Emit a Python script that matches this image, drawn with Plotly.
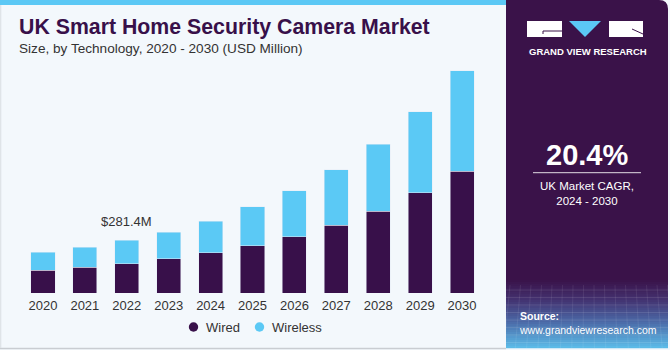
import plotly.graph_objects as go

years = ["2020", "2021", "2022", "2023", "2024", "2025", "2026", "2027", "2028", "2029", "2030"]
wired = [120.0, 138.1, 155.6, 182.1, 214.0, 251.2, 299.0, 361.1, 435.4, 534.2, 647.8]
wireless = [95.6, 106.2, 125.8, 141.8, 168.3, 207.1, 245.8, 295.2, 355.8, 428.5, 534.2]
series_names = ["Wired", "Wireless"]
highlight_year = "2022"
highlight_label = "$281.4M"
cagr_text = "20.4%"

WIRED_C = "#38104a"
WIRELESS_C = "#5bc9f5"
BG = "#f3f8fc"
PANEL = "#3a1249"

# plot area in pixels
L, R, T, B = 22, 483, 60, 293
W, H = R - L, B - T


def px(x):
    return (x - L) / W


def py(y):
    return (B - y) / H


pos = list(range(len(years)))
totals = [a + b for a, b in zip(wired, wireless)]
ymax = max(totals) * 233 / 222.3

fig = go.Figure()
fig.add_trace(go.Bar(x=pos, y=wired, name=series_names[0], marker_color=WIRED_C, showlegend=False, width=0.575))
fig.add_trace(go.Bar(x=pos, y=wireless, name=series_names[1], marker_color=WIRELESS_C, showlegend=False, width=0.575))

shapes = []
# top stripe
shapes.append(dict(type="rect", xref="paper", yref="paper", x0=px(0), x1=px(506), y0=py(0), y1=py(5),
                   fillcolor="#5bc8f5", line_width=0, layer="below"))
# bottom/left border
shapes.append(dict(type="line", xref="paper", yref="paper", x0=px(0), x1=px(506), y0=py(348.5), y1=py(348.5),
                   line=dict(color="#c9cdd2", width=1.5)))
shapes.append(dict(type="line", xref="paper", yref="paper", x0=px(0.7), x1=px(0.7), y0=py(5), y1=py(348),
                   line=dict(color="#dde2e6", width=1.2)))
# right panel with rounded top-right corner
r = 9
x0p, x1p, y0p, y1p = 506, 668, 0, 348
path = (f"M {px(x0p)},{py(y1p)} L {px(x0p)},{py(y0p)} L {px(x1p - r)},{py(y0p)} "
        f"Q {px(x1p)},{py(y0p)} {px(x1p)},{py(y0p + r)} L {px(x1p)},{py(y1p)} Z")
shapes.append(dict(type="path", xref="paper", yref="paper", path=path, fillcolor=PANEL, line_width=0))


# gradient bottom of panel
def lerp(c1, c2, f):
    a = [int(c1[k:k + 2], 16) for k in (1, 3, 5)]
    b = [int(c2[k:k + 2], 16) for k in (1, 3, 5)]
    return "#" + "".join(f"{round(a[k] + (b[k] - a[k]) * f):02x}" for k in range(3))


stops = [(280, "#3a1249"), (300, "#433270"), (322, "#4b6aa8"), (348, "#5cbde9")]
n = 34
y_start, y_end = 280, 348
for i in range(n):
    ya = y_start + (y_end - y_start) * i / n
    yb = y_start + (y_end - y_start) * (i + 1) / n
    ym = (ya + yb) / 2
    col = stops[-1][1]
    for j in range(len(stops) - 1):
        if stops[j][0] <= ym <= stops[j + 1][0]:
            f = (ym - stops[j][0]) / (stops[j + 1][0] - stops[j][0])
            col = lerp(stops[j][1], stops[j + 1][1], f)
            break
    shapes.append(dict(type="rect", xref="paper", yref="paper", x0=px(506), x1=px(668), y0=py(yb + 0.3), y1=py(ya),
                       fillcolor=col, line_width=0))
# faint grid lines in gradient
for k in range(8):
    yy = 290 + k * 7.5
    shapes.append(dict(type="line", xref="paper", yref="paper", x0=px(506), x1=px(668), y0=py(yy), y1=py(yy),
                       line=dict(color="rgba(255,255,255,0.10)", width=1)))
for k in range(16):
    xx = 510 + k * 10.5
    shapes.append(dict(type="line", xref="paper", yref="paper", x0=px(xx), x1=px(xx - 6 + k * 0.8), y0=py(285), y1=py(348),
                       line=dict(color="rgba(255,255,255,0.08)", width=1)))

# logo
shapes.append(dict(type="rect", xref="paper", yref="paper", x0=px(527), x1=px(562), y0=py(37), y1=py(21),
                   fillcolor="white", line_width=0))
shapes.append(dict(type="line", xref="paper", yref="paper", x0=px(543), x1=px(562), y0=py(31), y1=py(31),
                   line=dict(color=PANEL, width=1)))
shapes.append(dict(type="line", xref="paper", yref="paper", x0=px(543), x1=px(543), y0=py(31), y1=py(34),
                   line=dict(color=PANEL, width=1)))
shapes.append(dict(type="path", xref="paper", yref="paper",
                   path=f"M {px(569)},{py(21)} L {px(601)},{py(21)} L {px(585)},{py(37)} Z",
                   fillcolor="#5bc8f5", line_width=0))
shapes.append(dict(type="rect", xref="paper", yref="paper", x0=px(609), x1=px(643), y0=py(37), y1=py(21),
                   fillcolor="white", line_width=0))
shapes.append(dict(type="line", xref="paper", yref="paper", x0=px(632), x1=px(643), y0=py(29), y1=py(34),
                   line=dict(color=PANEL, width=1)))
# divider line under CAGR
shapes.append(dict(type="line", xref="paper", yref="paper", x0=px(533), x1=px(641), y0=py(172.7), y1=py(172.7),
                   line=dict(color="rgba(255,255,255,0.85)", width=1)))

# manual legend markers (circles)
legend_items = [(193.5, WIRED_C), (259.5, WIRELESS_C)]
legend_y = 327
for cx, c in legend_items:
    shapes.append(dict(type="circle", xref="paper", yref="paper", x0=px(cx - 4.7), x1=px(cx + 4.7),
                       y0=py(legend_y + 4.7), y1=py(legend_y - 4.7), fillcolor=c, line_width=0))

FONT = "Liberation Sans, Arial, sans-serif"
hi = years.index(highlight_year)
annotations = [
    dict(text="<b>UK Smart Home Security Camera Market</b>", xref="paper", yref="paper", x=px(17), y=py(27),
         xanchor="left", yanchor="middle", showarrow=False,
         font=dict(family=FONT, size=21.3, color="#38104a", weight=900)),
    dict(text="Size, by Technology, 2020 - 2030 (USD Million)", xref="paper", yref="paper", x=px(17), y=py(49),
         xanchor="left", yanchor="middle", showarrow=False,
         font=dict(family=FONT, size=13.6, color="#333333")),
    dict(text=highlight_label, x=pos[hi], y=totals[hi], xref="x", yref="y",
         yanchor="bottom", yshift=9, showarrow=False,
         font=dict(family=FONT, size=13, color="#333333")),
    dict(text="<b>GRAND VIEW RESEARCH</b>", xref="paper", yref="paper", x=px(587.5), y=py(52),
         xanchor="center", yanchor="middle", showarrow=False,
         font=dict(family=FONT, size=9.5, color="white")),
    dict(text=f"<b>{cagr_text}</b>", xref="paper", yref="paper", x=px(587), y=py(155),
         xanchor="center", yanchor="middle", showarrow=False,
         font=dict(family=FONT, size=29, color="white")),
    dict(text="UK Market CAGR,<br>2024 - 2030", xref="paper", yref="paper", x=px(587), y=py(193),
         xanchor="center", yanchor="middle", showarrow=False,
         font=dict(family=FONT, size=11.5, color="white")),
    dict(text="<b>Source:</b><br>www.grandviewresearch.com", xref="paper", yref="paper", x=px(517), y=py(323),
         xanchor="left", yanchor="middle", align="left", showarrow=False,
         font=dict(family=FONT, size=10.5, color="white")),
]
for (cx, c), name in zip(legend_items, series_names):
    annotations.append(dict(text=name, xref="paper", yref="paper", x=px(cx + 10), y=py(legend_y),
                            xanchor="left", yanchor="middle", showarrow=False,
                            font=dict(family=FONT, size=13, color="#333333")))

fig.update_layout(
    width=670, height=350,
    margin=dict(l=L, r=670 - R, t=T, b=350 - B, pad=0),
    paper_bgcolor=BG, plot_bgcolor=BG,
    barmode="stack",
    font=dict(family=FONT, size=13, color="#333333"),
    xaxis=dict(type="linear", range=[-0.5, len(years) - 0.5], tickmode="array", tickvals=pos, ticktext=years,
               showgrid=False, zeroline=False, showline=False, ticks="", ticklabelstandoff=3,
               tickfont=dict(size=13, color="#333333"), fixedrange=True),
    yaxis=dict(visible=False, range=[0, ymax], fixedrange=True),
    shapes=shapes,
    annotations=annotations,
    showlegend=False,
)

fig.write_html("out.html")
